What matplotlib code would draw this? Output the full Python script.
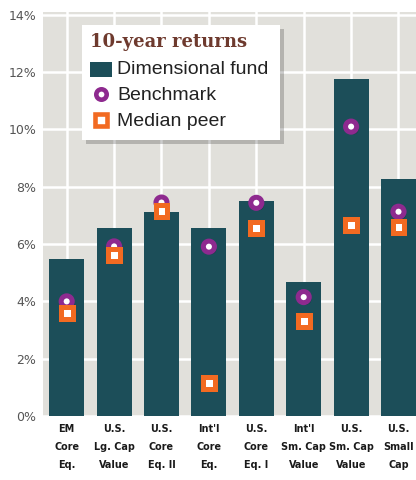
import matplotlib
matplotlib.use("Agg")
import matplotlib.pyplot as plt
from matplotlib import font_manager
from matplotlib.font_manager import FontProperties
from matplotlib.patches import Rectangle
from matplotlib.lines import Line2D
import matplotlib.patheffects as pe

categories = ["EM\nCore\nEq.", "U.S.\nLg. Cap\nValue", "U.S.\nCore\nEq. II", "Int'l\nCore\nEq.",
              "U.S.\nCore\nEq. I", "Int'l\nSm. Cap\nValue", "U.S.\nSm. Cap\nValue", "U.S.\nSmall\nCap"]
fund = [5.48, 6.56, 7.12, 6.56, 7.52, 4.68, 11.77, 8.27]
benchmark = [4.0, 5.92, 7.45, 5.91, 7.44, 4.15, 10.1, 7.13]
median_peer = [3.6, 5.62, 7.17, 1.15, 6.55, 3.3, 6.65, 6.6]
yticks = [0, 2, 4, 6, 8, 10, 12, 14]
ytick_labels = ["0%", "2%", "4%", "6%", "8%", "10%", "12%", "14%"]

BAR = "#1C4E59"
PURPLE = "#8E2A8F"
ORANGE = "#F26A21"
BG = "#E1E0DB"
TITLE = "#6E3A2E"

# pick the narrowest bold font available for the category labels
def pick_condensed():
    stretch_rank = {"ultra-condensed": 0, "extra-condensed": 1, "condensed": 2, "semi-condensed": 3}
    cands = []
    for f in font_manager.fontManager.ttflist:
        w = f.weight if isinstance(f.weight, int) else 700 if "bold" in str(f.weight) else 400
        if w < 600 or w > 800 or f.style != "normal":
            continue
        name = f.name.lower()
        st = f.stretch
        rank = None
        if isinstance(st, str) and st in stretch_rank:
            rank = stretch_rank[st]
        elif isinstance(st, int) and st < 500:
            rank = st / 200
        elif "condensed" in name or "narrow" in name:
            rank = 2
        if rank is not None:
            cands.append((rank, f.fname))
    if cands:
        cands.sort()
        return FontProperties(fname=cands[0][1])
    return FontProperties(family="Lato", weight="bold")

W, H = 416, 480
fig = plt.figure(figsize=(W / 100, H / 100), dpi=100)
ax = fig.add_axes([43 / W, 1 - 416 / H, 1 - 43 / W, (416 - 12) / H])
ax.set_facecolor(BG)
for s in ax.spines.values():
    s.set_visible(False)

x = list(range(len(categories)))
shadow = [pe.SimplePatchShadow(offset=(1.5, -1.5), shadow_rgbFace="black", alpha=0.3), pe.Normal()]
ax.bar(x, fund, width=0.74, color=BAR, zorder=2)
ax.plot(x, benchmark, linestyle="none", marker="o", markersize=8, markeredgewidth=3.6,
        markerfacecolor="white", markeredgecolor=PURPLE, zorder=3, path_effects=shadow)
ax.plot(x, median_peer, linestyle="none", marker="s", markersize=8.6, markeredgewidth=3.6,
        markerfacecolor="white", markeredgecolor=ORANGE, zorder=4, path_effects=shadow)

ax.set_xlim(-0.5, (W - 43) / 47.4 - 0.5)
ax.set_ylim(0, 14.1)
ax.set_yticks(yticks)
ax.set_yticklabels(ytick_labels, fontsize=9, color="#555555")
ax.set_xticks(x)
xfp = pick_condensed()
ax.set_xticklabels(categories, color="#1a1a1a", linespacing=2.0, fontproperties=xfp)
ax.tick_params(length=0)
ax.tick_params(axis="y", pad=5)
ax.tick_params(axis="x", pad=6)
ax.grid(True, color="white", linewidth=1.8, zorder=0)
ax.set_axisbelow(True)

# fit category labels into their column width
fig.canvas.draw()
renderer = fig.canvas.get_renderer()
size = 12.5
while size > 6:
    for t in ax.get_xticklabels():
        t.set_fontsize(size)
    widest = max(t.get_window_extent(renderer).width for t in ax.get_xticklabels())
    if widest <= 46:
        break
    size -= 0.25

# legend box (drawn in figure pixel coordinates)
def fx(px):
    return px / W

def fy(py):
    return 1 - py / H

box = Rectangle((fx(82), fy(140)), fx(280) - fx(82), fy(25) - fy(140), transform=fig.transFigure,
                facecolor="white", edgecolor="none", zorder=10,
                path_effects=[pe.SimplePatchShadow(offset=(3, -3), shadow_rgbFace="black", alpha=0.2), pe.Normal()])
fig.add_artist(box)
fig.text(fx(90), fy(42), "10-year returns", family="DejaVu Serif", fontweight="bold", fontsize=13,
         color=TITLE, va="center", ha="left", zorder=11)
fig.add_artist(Rectangle((fx(90), fy(77)), fx(112) - fx(90), fy(62) - fy(77), transform=fig.transFigure,
                         facecolor=BAR, edgecolor="none", zorder=11))
fig.add_artist(Line2D([fx(101)], [fy(94)], transform=fig.transFigure, marker="o", markersize=7.5,
                      markeredgewidth=3.3, markerfacecolor="white", markeredgecolor=PURPLE, zorder=11))
fig.add_artist(Line2D([fx(101)], [fy(120)], transform=fig.transFigure, marker="s", markersize=8,
                      markeredgewidth=3.3, markerfacecolor="white", markeredgecolor=ORANGE, zorder=11))
for label, py in [("Dimensional fund", 69), ("Benchmark", 95), ("Median peer", 121)]:
    fig.text(fx(117), fy(py), label, family="Liberation Sans", fontsize=14, color="#222222",
             va="center", ha="left", zorder=11)

fig.savefig("out.png", dpi=100)
